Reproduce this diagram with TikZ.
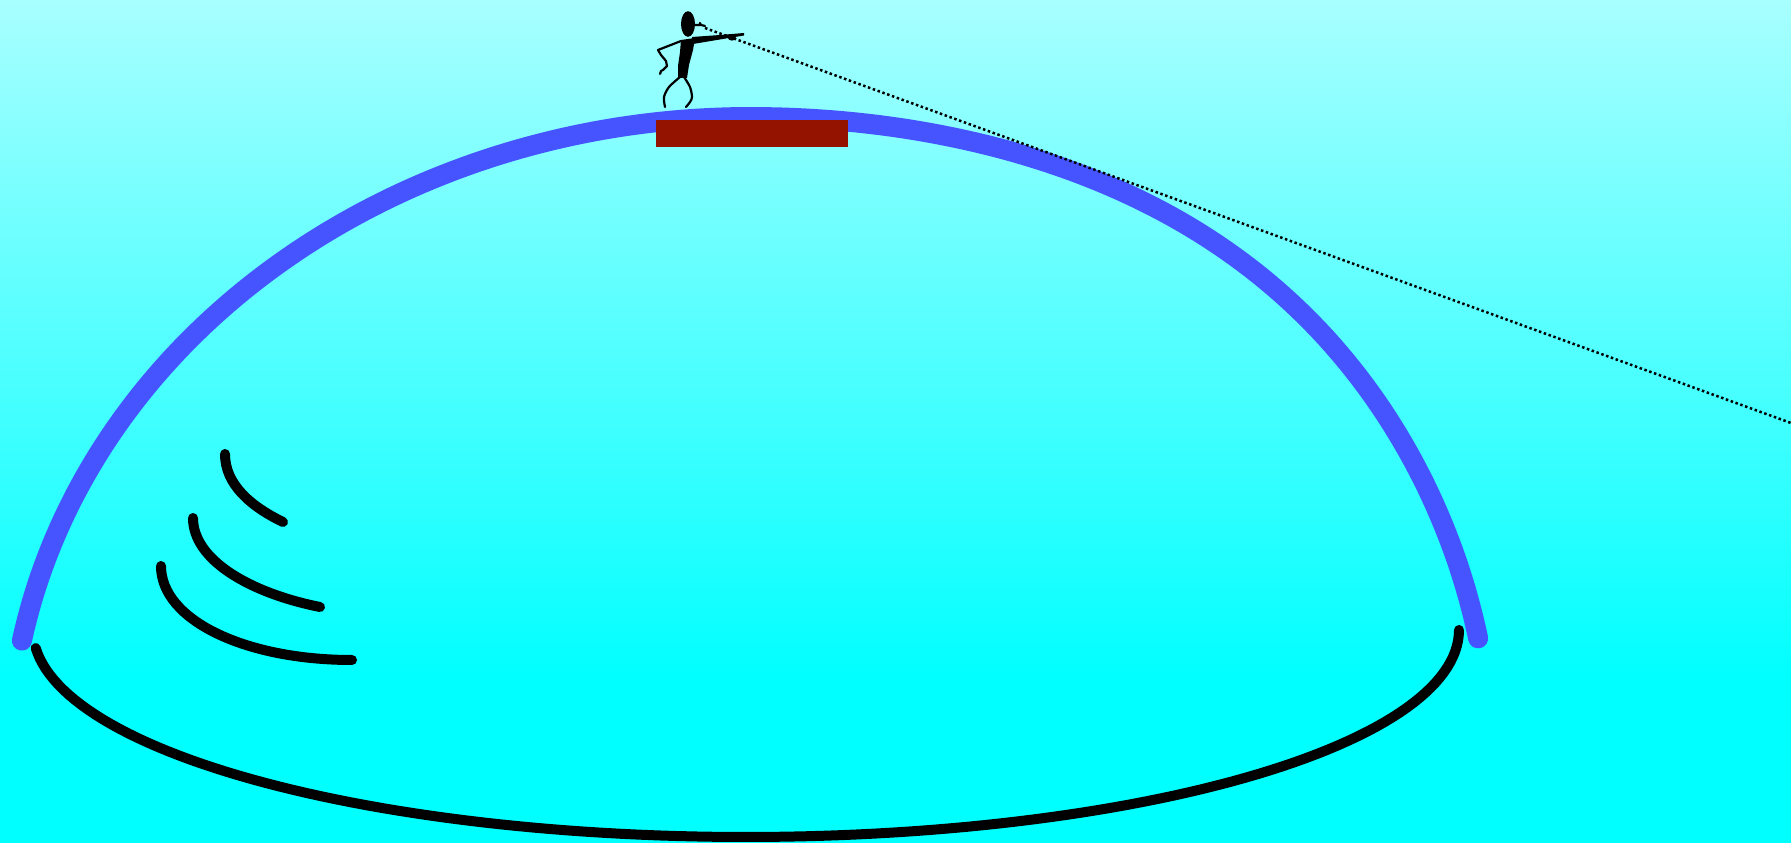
\documentclass[tikz,border=0pt]{standalone}
\definecolor{skytop}{RGB}{168,255,255}
\definecolor{skybottom}{RGB}{0,255,255}
\definecolor{domeblue}{RGB}{70,84,255}
\definecolor{plate}{RGB}{147,18,0}
\newlength\pxu
\setlength\pxu{0.01cm}
\tikzset{
  dome/.style={draw=domeblue, line width=20\pxu, line cap=round, line join=round},
  ripple/.style={draw=black, line width=10\pxu, line cap=round},
  sightline/.style={draw=black, line width=2.5\pxu, dash pattern=on 2.5\pxu off 2.6\pxu},
  limb/.style={draw=black, line width=2.2\pxu, line cap=round, line join=round},
}
\begin{document}
\begin{tikzpicture}[x=0.01cm, y=-0.01cm]
  % sky: fading from pale cyan at the top to full cyan near the bottom
  \useasboundingbox (0,0) rectangle (1791,843);
  \shade[top color=skytop, bottom color=skybottom] (0,0) rectangle (1791,681);
  \fill[skybottom] (0,680) rectangle (1791,843);

  % dome outline: upper part of an ellipse, the right shoulder a little fuller
  \draw[dome] plot[domain=169.3:10.9, samples=180]
    ({750+741*cos(\x)+40*max(0,sin(2*\x))*sin(\x)^2}, {760-643*sin(\x)});

  % base of the dome: lower half of a flatter ellipse
  \draw[ripple] plot[domain=175:0, samples=120]
    ({746+713*cos(\x)}, {630+207*sin(\x)});

  % ripples inside
  \draw[ripple] (225,454) .. controls (225,484) and (250,506) .. (283,522);
  \draw[ripple] (193,518) .. controls (193,560) and (250,593) .. (320,607);
  \draw[ripple] (161,566) .. controls (161,620) and (245,660) .. (352,660);

  % plate on the crown
  \fill[plate] (656,120) rectangle (848,147);

  % observer standing on the crown
  \fill[black] (688,24) ellipse [x radius=7, y radius=12.8];
  \draw[limb] (695,25) -- (700,25) -- (700,23) -- (701,25) -- (705,26);
  \fill[black] (681,40) -- (695,38) -- (693,50) -- (689,65) -- (687,78)
    -- (678,78) -- (678,66) -- (680,52) -- cycle;
  \fill[black] (692,37) -- (720,35) -- (744,33) -- (744,35.5) -- (720,39.5)
    -- (693,44) -- cycle;
  \fill[black] (732,38) ellipse [x radius=4, y radius=2.6];
  \draw[limb] (681,41) -- (658,50) -- (661,55) -- (666,61) -- (667,66)
    -- (663,70) -- (661,71) -- (660,74);
  \draw[limb] plot[smooth] coordinates {(680,77) (669,87) (664,97) (665,107)};
  \draw[limb] plot[smooth] coordinates {(684,77) (690,87) (692,97) (690,102) (686,107)};

  % line of sight towards the horizon
  \coordinate (eye) at (705,28);
  \coordinate (far) at (1791,423);
  \draw[sightline] (eye) -- (far);
\end{tikzpicture}
\end{document}
